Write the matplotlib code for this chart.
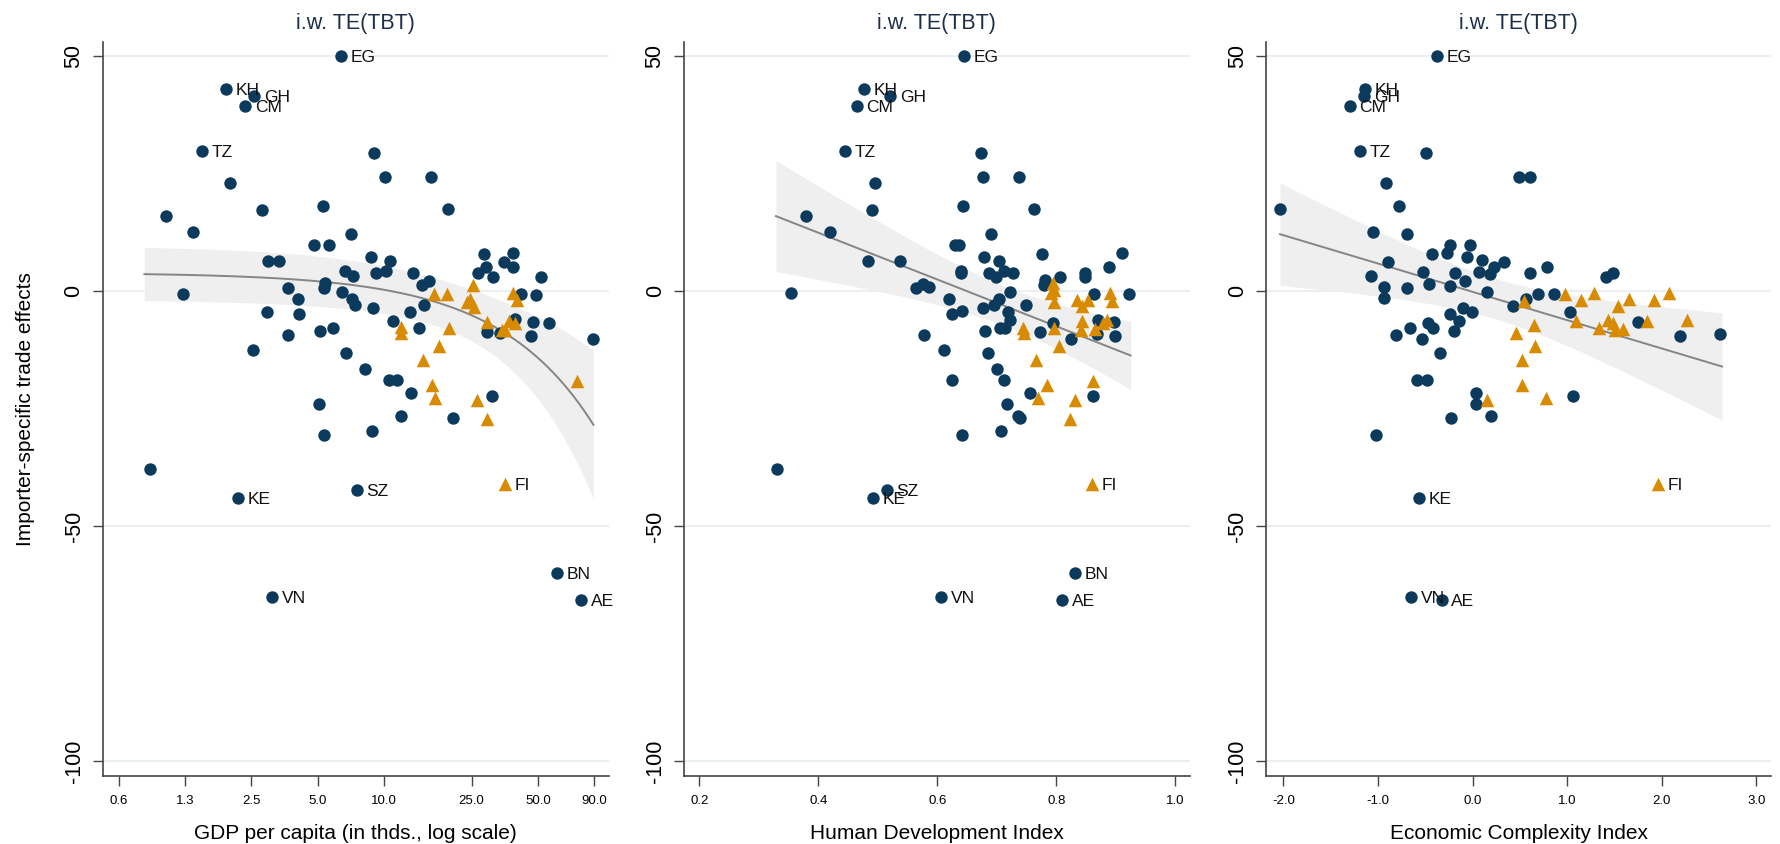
import numpy as np
import matplotlib.pyplot as plt

plt.rcParams['font.family'] = ['Liberation Sans', 'DejaVu Sans']

# labelled countries (same trade effect in all three panels)
lab_names = ["EG", "KH", "GH", "CM", "TZ", "KE", "SZ", "VN", "BN", "AE"]
lab_te = [49.9, 42.9, 41.5, 39.3, 29.8, -44.1, -42.3, -65.2, -60.0, -65.7]
lab_gdp = [6.38, 1.91, 2.58, 2.35, 1.49, 2.18, 7.53, 3.10, 61.1, 78.5]
lab_hdi = [0.645, 0.477, 0.521, 0.465, 0.445, 0.492, 0.515, 0.607, 0.832, 0.810]
lab_eci = [-0.372, -1.134, -1.146, -1.300, -1.194, -0.563, np.nan, -0.648, np.nan, -0.328]

# labelled triangle
fi_te = -41.1
fi_gdp = 35.3
fi_hdi = 0.860
fi_eci = 1.960

# panel 1: GDP per capita
gdp_x = [9.0, 10.1, 16.4, 2.01, 5.31, 19.5, 2.80, 1.02, 1.36, 7.08, 4.81, 5.62, 2.97, 3.34, 8.77,
         10.6, 28.5, 38.6, 35.2, 38.5, 26.8, 29.2, 31.2, 51.4, 6.62, 7.26, 9.23, 10.2, 13.6, 16.0,
         14.9, 5.42, 5.36, 3.65, 1.22, 6.44, 42.1, 49.2, 4.09, 7.17, 7.35, 8.93, 15.2, 2.94, 4.13,
         13.1, 11.0, 47.7, 56.1, 14.4, 29.4, 33.6, 39.3, 5.14, 5.85, 3.65, 46.4, 88.5, 2.55, 6.73,
         8.22, 10.5, 11.5, 13.2, 30.9, 5.08, 12.0, 20.5, 5.36, 8.83, 0.867]
gdp_y = [29.3, 24.2, 24.2, 23.0, 18.1, 17.4, 17.3, 16.0, 12.5, 12.0, 9.85, 9.85, 6.45, 6.45, 7.1,
         6.4, 7.9, 8.15, 6.2, 5.0, 3.75, 5.0, 2.9, 2.9, 4.25, 3.2, 3.9, 4.25, 3.7, 2.1,
         1.2, 1.6, 0.6, 0.7, -0.6, -0.2, -0.6, -0.8, -1.7, -1.8, -3.0, -3.6, -3.1, -4.4, -5.0,
         -4.6, -6.4, -6.7, -6.9, -7.9, -8.8, -9.0, -6.0, -8.6, -7.8, -9.4, -9.7, -10.3, -12.5, -13.2,
         -16.6, -19.0, -19.0, -21.8, -22.4, -24.0, -26.6, -27.1, -30.7, -29.8, -38.0]
gdp_tri_x = [25.3, 16.8, 19.3, 23.8, 24.5, 25.6, 38.5, 40.1, 29.4, 34.2, 37.0, 39.3, 35.6, 12.0,
             11.9, 19.7, 17.8, 15.0, 16.6, 17.0, 26.4, 29.4, 75.5]
gdp_tri_y = [1.3, -0.6, -0.6, -2.3, -1.8, -3.5, -0.5, -1.9, -6.7, -8.3, -6.5, -6.9, -8.3, -7.6,
             -9.0, -7.9, -11.7, -14.8, -20.0, -22.7, -23.2, -27.3, -19.1]

# panel 2: HDI
hdi_x = [0.674, 0.677, 0.737, 0.495, 0.644, 0.762, 0.491, 0.379, 0.419, 0.691, 0.630, 0.637, 0.484,
         0.538, 0.678, 0.704, 0.776, 0.910, 0.888, 0.848, 0.848, 0.806, 0.640, 0.640, 0.687, 0.698,
         0.713, 0.727, 0.781, 0.780, 0.565, 0.576, 0.586, 0.355, 0.723, 0.864, 0.923, 0.619, 0.704,
         0.695, 0.749, 0.677, 0.641, 0.624, 0.719, 0.723, 0.795, 0.871, 0.897, 0.705, 0.714, 0.680,
         0.772, 0.868, 0.898, 0.824, 0.577, 0.611, 0.685, 0.700, 0.625, 0.713, 0.756, 0.862, 0.717,
         0.735, 0.739, 0.642, 0.708, 0.330]
hdi_y = [29.3, 24.2, 24.2, 23.0, 18.1, 17.4, 17.3, 16.0, 12.5, 12.0, 9.85, 9.85, 6.45,
         6.45, 7.1, 6.4, 7.9, 8.0, 5.0, 3.9, 3.0, 2.9, 4.25, 3.75, 3.75, 3.0,
         4.25, 3.9, 2.3, 1.3, 0.7, 1.5, 0.8, -0.5, -0.2, -0.6, -0.7, -1.7, -1.7,
         -3.1, -3.1, -3.6, -4.3, -5.0, -4.6, -6.3, -6.9, -6.2, -6.7, -7.9, -7.9, -8.6,
         -8.7, -9.1, -9.7, -10.3, -9.4, -12.5, -13.2, -16.6, -19.0, -19.0, -21.8, -22.4, -24.0,
         -26.6, -27.1, -30.7, -29.8, -38.0]
hdi_tri_x = [0.794, 0.797, 0.791, 0.797, 0.835, 0.853, 0.844, 0.891, 0.893, 0.744, 0.746, 0.796,
             0.844, 0.842, 0.865, 0.878, 0.886, 0.804, 0.766, 0.785, 0.770, 0.862, 0.831, 0.823]
hdi_tri_y = [1.6, 0.2, -0.5, -2.3, -1.9, -1.9, -3.3, -0.5, -2.1, -7.9, -9.0, -7.9,
             -6.5, -8.3, -8.1, -6.9, -6.3, -11.7, -14.8, -20.0, -22.7, -19.1, -23.2, -27.3]

# panel 3: ECI
eci_x = [-0.490, 0.490, 0.607, -0.915, -0.773, -2.032, -1.049, -0.696, -0.235, -0.032, -0.275, -0.429,
         -0.061, -0.895, 0.105, 0.336, 0.227, 0.785, 0.065, 0.186, -0.522, -0.190, 0.603, 1.482,
         1.409, -1.073, -0.077, -0.931, -0.692, -0.457, -0.235, 0.158, 0.696, 0.858, -0.931, 0.563,
         0.429, 1.028, -0.105, -0.004, -0.235, -0.142, -0.474, -0.421, -0.660, -0.198, -0.814, -0.530,
         1.749, 2.190, 2.619, -0.340, -0.591, -0.478, 0.036, 0.036, 1.057, -0.227, 0.190, -1.024]
eci_y = [29.3, 24.2, 24.2, 23.0, 18.1, 17.4, 12.6, 12.0, 9.8, 9.8, 8.0, 7.9,
         7.1, 6.2, 6.6, 6.2, 5.0, 5.0, 4.1, 3.6, 4.1, 3.9, 3.75, 3.9,
         2.9, 3.1, 2.1, 0.8, 0.6, 1.4, 1.1, -0.3, -0.6, -0.6, -1.6, -1.7,
         -3.2, -4.6, -3.7, -4.4, -4.9, -6.4, -6.9, -7.9, -7.8, -8.6, -9.4, -10.3,
         -6.7, -9.7, -9.1, -13.2, -19.0, -19.0, -21.7, -24.0, -22.4, -27.1, -26.6, -30.7]
eci_tri_x = [0.976, 1.150, 1.287, 1.652, 1.919, 2.077, 1.534, 0.543, 0.652, 0.462, 0.664, 0.522,
             0.522, 0.773, 0.150, 1.089, 1.332, 1.433, 1.482, 1.502, 1.595, 1.846, 2.271]
eci_tri_y = [-0.6, -1.9, -0.5, -1.8, -1.9, -0.4, -3.2, -2.1, -7.2, -9.0, -11.7, -14.8,
             -20.0, -22.7, -23.2, -6.5, -7.9, -6.2, -6.9, -8.3, -8.1, -6.5, -6.3]

# linear fit + 95% CI (GDP panel fitted in levels)
fit_xmin = [0.817, 0.329, -2.035]
fit_xmax = [89.3, 0.925, 2.637]
fit_a = [3.85, 32.27, -0.21]
fit_b = [-0.3622, -49.75, -6.025]
ci_hw_min = [5.02, 4.2, 4.3]
ci_xc = [14.0, 0.7185, 0.239]
ci_curv = [0.03957, 801.6, 19.4]

navy = '#0b3a5c'
orange = '#d88a00'
grid_c = '#e6eef0'

panels = [
    (gdp_x, gdp_y, gdp_tri_x, gdp_tri_y, lab_gdp, fi_gdp, "GDP per capita (in thds., log scale)"),
    (hdi_x, hdi_y, hdi_tri_x, hdi_tri_y, lab_hdi, fi_hdi, "Human Development Index"),
    (eci_x, eci_y, eci_tri_x, eci_tri_y, lab_eci, fi_eci, "Economic Complexity Index"),
]

fig = plt.figure(figsize=(17.81, 8.44), dpi=100)
bottom = 0.0806
height = 0.870
boxes = [(0.0576, 0.2843), (0.3839, 0.2840), (0.7109, 0.2835)]

for i, (px, py, tx, ty, lx, fx, xlabel) in enumerate(panels):
    ax = fig.add_axes([boxes[i][0], bottom, boxes[i][1], height])

    if i == 0:
        xs = np.geomspace(fit_xmin[i], fit_xmax[i], 300)
    else:
        xs = np.linspace(fit_xmin[i], fit_xmax[i], 300)
    fit = fit_a[i] + fit_b[i] * xs
    hw = np.sqrt(ci_hw_min[i] ** 2 + ci_curv[i] * (xs - ci_xc[i]) ** 2)

    for yv in [50, 0, -50, -100]:
        ax.axhline(yv, color=grid_c, lw=1.2, zorder=0)
    ax.fill_between(xs, fit - hw, fit + hw, color='#efefef', lw=0, zorder=1)
    ax.plot(xs, fit, color='#858585', lw=1.4, zorder=2)

    ax.scatter(px, py, s=80, color=navy, marker='o', lw=0, zorder=3)
    ax.scatter(lx, lab_te, s=80, color=navy, marker='o', lw=0, zorder=3)
    ax.scatter(tx, ty, s=95, color=orange, marker='^', lw=0, zorder=3)
    ax.scatter([fx], [fi_te], s=95, color=orange, marker='^', lw=0, zorder=3)

    for name, xv, yv in zip(lab_names, lx, lab_te):
        if np.isnan(xv):
            continue
        ax.annotate(name, (xv, yv), xytext=(7, -1), textcoords='offset points',
                    va='center', ha='left', fontsize=12.5, color='#111111', zorder=4)
    ax.annotate("FI", (fx, fi_te), xytext=(7, -1), textcoords='offset points',
                va='center', ha='left', fontsize=12.5, color='#111111', zorder=4)

    ax.set_ylim(-103.2, 53)
    ax.set_yticks([50, 0, -50, -100])
    ax.set_yticklabels(['50', '0', '-50', '-100'], rotation=90, va='center', fontsize=15.5)

    if i == 0:
        ax.set_xscale('log')
        ax.set_xlim(0.528, 105)
        ax.set_xticks([0.625, 1.25, 2.5, 5, 10, 25, 50, 90])
        ax.set_xticklabels(['0.6', '1.3', '2.5', '5.0', '10.0', '25.0', '50.0', '90.0'])
        ax.minorticks_off()
        ax.set_ylabel("Importer-specific trade effects", fontsize=15)
        ax.yaxis.set_label_coords(-0.134, 0.5)
    elif i == 1:
        ax.set_xlim(0.174, 1.024)
        ax.set_xticks([0.2, 0.4, 0.6, 0.8, 1.0])
        ax.set_xticklabels(['0.2', '0.4', '0.6', '0.8', '1.0'])
    else:
        ax.set_xlim(-2.182, 3.155)
        ax.set_xticks([-2, -1, 0, 1, 2, 3])
        ax.set_xticklabels(['-2.0', '-1.0', '0.0', '1.0', '2.0', '3.0'])

    ax.tick_params(axis='x', labelsize=9.5, length=7, width=1, color='#444444', pad=7)
    ax.tick_params(axis='y', length=7, width=1, color='#444444', pad=6)
    ax.set_xlabel(xlabel, fontsize=15, labelpad=12)
    ax.set_title("i.w. TE(TBT)", fontsize=15.5, color='#1c2e4a', pad=9)

    for sp in ['top', 'right']:
        ax.spines[sp].set_visible(False)
    for sp in ['left', 'bottom']:
        ax.spines[sp].set_color('#444444')
        ax.spines[sp].set_linewidth(1.2)

fig.savefig('out.png', dpi=100, facecolor='white')
